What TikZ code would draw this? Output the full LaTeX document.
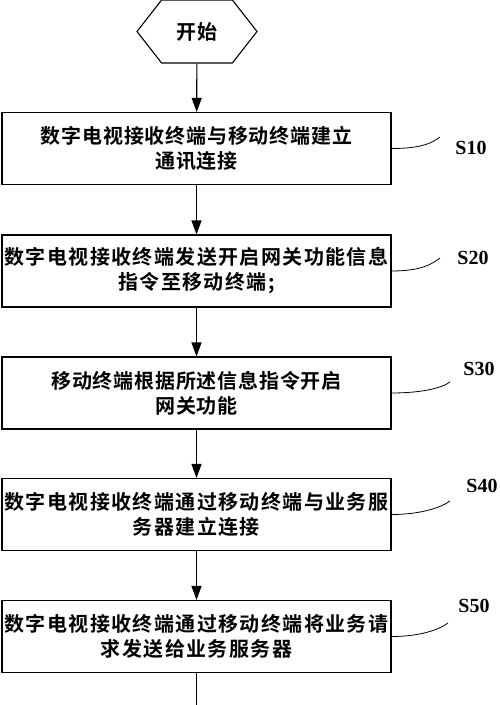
\documentclass[tikz,border=0pt]{standalone}
\usepackage{fontspec}
\newfontfamily\cjk{Noto Sans CJK SC}[BoldFont={Noto Sans CJK SC Bold},LetterSpace=4]
\newfontfamily\cjkw{Noto Sans CJK SC}[BoldFont={Noto Sans CJK SC Bold},LetterSpace=7]
\newfontfamily\labfont{Liberation Serif}
\usetikzlibrary{arrows.meta, shapes.symbols}

\begin{document}
\begin{tikzpicture}[x=1pt, y=-1pt, line width=1.1pt,
  stepbox/.style={draw, minimum width=389pt, minimum height=72pt, inner sep=0pt,
    align=center, font=\fontsize{20}{25}\selectfont\bfseries\cjk},
  widebox/.style={stepbox, font=\fontsize{20}{25}\selectfont\bfseries\cjkw},
  flow/.style={-{Triangle[length=14pt,width=10pt]}},
  steplabel/.style={font=\fontsize{20}{24}\selectfont\bfseries\labfont}]
\useasboundingbox (0,0) rectangle (500,705);

\node[draw, signal, signal to=west and east, signal pointer angle=104,
  minimum width=120pt, minimum height=63pt, inner sep=0pt,
  font=\fontsize{20}{24}\selectfont\bfseries\cjk] (start) at (197,31.5) {开始};

\node[stepbox] (b1) at (196.5,148.5) {数字电视接收终端与移动终端建立\\通讯连接};
\node[widebox] (b2) at (196.5,271) {数字电视接收终端发送开启网关功能信息\\指令至移动终端;};
\node[stepbox] (b3) at (196.5,393) {移动终端根据所述信息指令开启\\网关功能};
\node[widebox] (b4) at (196.5,514.5) {数字电视接收终端通过移动终端与业务服\\务器建立连接};
\node[widebox] (b5) at (196.5,636.5) {数字电视接收终端通过移动终端将业务请\\求发送给业务服务器};
\coordinate (end) at (196.5,705);

\draw[flow] (start) -- (b1);
\draw[flow] (b1) -- (b2);
\draw[flow] (b2) -- (b3);
\draw[flow] (b3) -- (b4);
\draw[flow] (b4) -- (b5);
\draw (b5) -- (end);

% step numbers
\coordinate (c1) at (440,137);
\coordinate (c2) at (440,258);
\coordinate (c3) at (450,382);
\coordinate (c4) at (450,501);
\coordinate (c5) at (448,623);
\node[steplabel] (s1) at (471,148) {S10};
\node[steplabel] (s2) at (473,258) {S20};
\node[steplabel] (s3) at (479,369) {S30};
\node[steplabel] (s4) at (482,486) {S40};
\node[steplabel] (s5) at (474,606) {S50};

\draw[line width=0.8pt] (b1.east) .. controls +(30,0) and +(-8,6) .. (c1);
\draw[line width=0.8pt] (b2.east) .. controls +(30,0) and +(-8,6) .. (c2);
\draw[line width=0.8pt] (b3.east) .. controls +(30,0) and +(-8,6) .. (c3);
\draw[line width=0.8pt] (b4.east) .. controls +(30,0) and +(-8,6) .. (c4);
\draw[line width=0.8pt] (b5.east) .. controls +(30,0) and +(-8,6) .. (c5);

\end{tikzpicture}
\end{document}
